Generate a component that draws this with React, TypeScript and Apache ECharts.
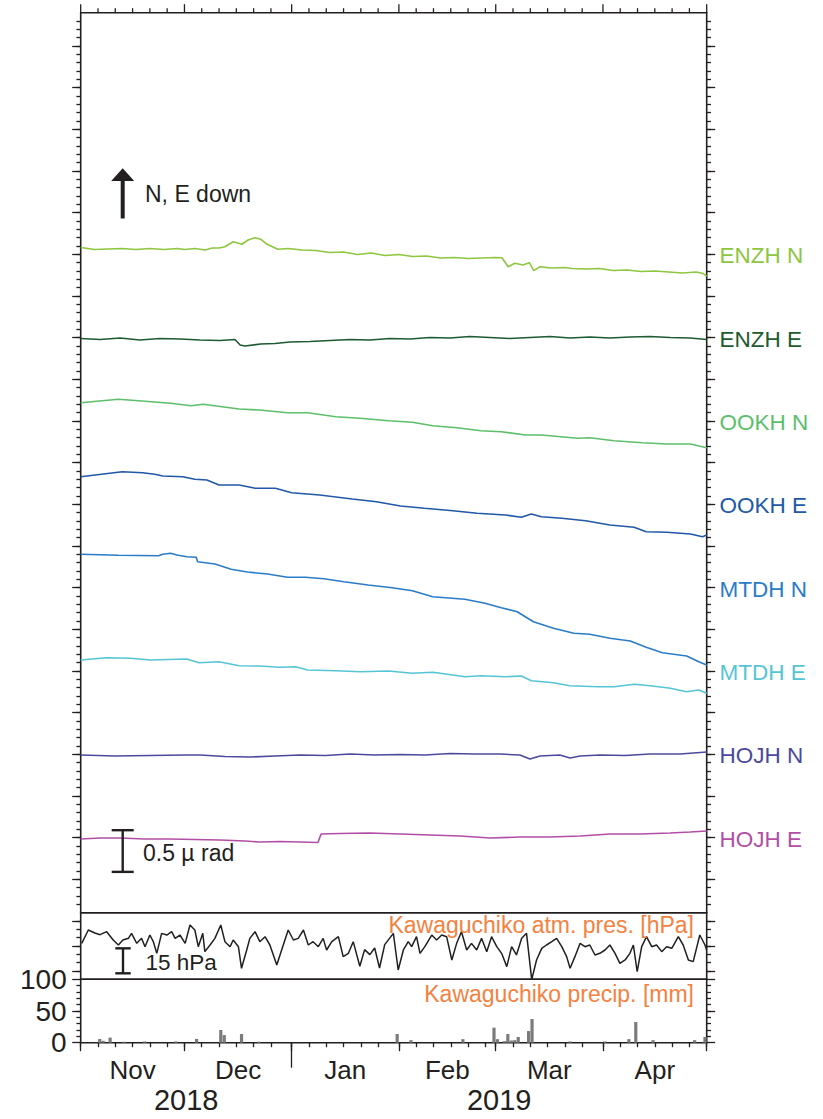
import { useEffect, useRef } from "react";
import * as echarts from "echarts";

const W = 823;
const H = 1119;
const FONT = '"Liberation Sans", Arial, Helvetica, sans-serif';
const INK = "#231f20";

// ---- time axis: days since 2018-11-01 (0) to 2019-05-01 (181)
const monthNames = ["Nov", "Dec", "Jan", "Feb", "Mar", "Apr"];
const monthLengths = [30, 31, 31, 28, 31, 30];
const yearLabels = ["2018", "2019"];
const yearMonthSpans = [[0, 2], [2, 6]];
const tickDaysOfMonth = [0, 5, 10, 15, 20, 25];

// ---- tilt traces (µrad, offset for display) as [day, value]
const traceNames = ["ENZH N", "ENZH E", "OOKH N", "OOKH E", "MTDH N", "MTDH E", "HOJH N", "HOJH E"];
const traceColors = ["#8dc63f", "#1d5b30", "#5cbf6b", "#2158a8", "#2b7cc7", "#55c5d5", "#4b4a9e", "#b24ea5"];
const traceLabelLevels = [7, 6, 5, 4, 3, 2, 1, 0];

const enzhN = [[0,7.082],[4,7.058],[8,7.064],[12,7.07],[16,7.058],[20,7.07],[24,7.058],[28,7.07],[30,7.058],[33,7.07],[36,7.052],[38,7.076],[40,7.076],[41.7,7.092],[44.1,7.152],[46.6,7.121],[48.4,7.172],[50.3,7.2],[52.1,7.181],[53.9,7.121],[57,7.061],[60,7.07],[64,7.052],[68,7.046],[72,7.022],[76,7.028],[80,6.998],[84,7.016],[88,6.986],[92,6.998],[96,6.974],[100,6.98],[104,6.956],[108,6.962],[112,6.95],[116,6.956],[120,6.962],[121.8,6.96],[123.6,6.852],[125.5,6.893],[127.9,6.872],[129.7,6.9],[131,6.804],[132.8,6.852],[136,6.836],[140,6.842],[142,6.83],[146,6.824],[150,6.83],[154,6.806],[158,6.812],[162,6.794],[166,6.8],[170,6.788],[174,6.776],[178,6.788],[180,6.77],[181,6.74]];
const enzhE = [[0,5.99],[5.6,5.978],[11.4,5.996],[17.1,5.972],[22.9,5.99],[28.7,5.984],[34.5,5.972],[40.3,5.966],[44.6,5.978],[46.1,5.912],[47.5,5.9],[52,5.924],[56.2,5.93],[60.5,5.948],[66.3,5.954],[72.1,5.966],[77.9,5.978],[83.6,5.972],[89.4,5.99],[95.2,5.984],[101,6.002],[106.8,5.996],[112.5,6.014],[118.3,6.002],[124.1,5.99],[129.9,6.002],[135.7,6.014],[141.5,5.996],[147.2,6.008],[153,5.996],[158.8,6.008],[164.6,6.014],[170.4,6.002],[176.2,5.996],[181,5.978]];
const ookhN = [[0,5.22],[10.9,5.261],[16.7,5.244],[26,5.213],[31.9,5.184],[35.4,5.201],[45.8,5.144],[51.7,5.132],[59.8,5.1],[65.6,5.1],[73.8,5.052],[80.7,5.033],[89,5.004],[95.9,4.985],[101.8,4.944],[108.8,4.92],[115.7,4.884],[121.6,4.872],[128.6,4.832],[133.2,4.832],[143.7,4.793],[147.2,4.8],[154.2,4.764],[162.4,4.74],[169.4,4.724],[176.3,4.724],[181,4.68]];
const ookhE = [[0,4.332],[12,4.392],[17.9,4.38],[21.4,4.361],[23.7,4.34],[29.5,4.332],[33,4.301],[36.5,4.292],[40,4.232],[45.8,4.232],[50.5,4.193],[56.3,4.193],[61,4.14],[69.1,4.112],[78.5,4.064],[85.5,4.032],[92.5,3.98],[99.4,3.953],[107.6,3.924],[114.6,3.893],[122.8,3.872],[127.4,3.845],[130.3,3.884],[133.2,3.852],[139.1,3.833],[146,3.804],[153,3.752],[160,3.725],[163.5,3.672],[169.4,3.665],[176.3,3.644],[179.8,3.612],[181,3.632]];
const mtdhN = [[0,3.401],[10.9,3.389],[22.5,3.384],[23.7,3.401],[26,3.413],[27.8,3.392],[30.7,3.372],[33.4,3.365],[33.8,3.312],[38.8,3.284],[43.5,3.221],[48.2,3.188],[54,3.164],[59.8,3.125],[65,3.125],[70.3,3.108],[76.1,3.072],[83.1,3.032],[90.1,3.0],[95.9,2.964],[101.8,2.892],[111.1,2.861],[116.9,2.813],[121.6,2.76],[126.2,2.712],[130.9,2.592],[136.7,2.513],[142.6,2.453],[147.2,2.441],[153,2.393],[158.9,2.36],[163.5,2.285],[168.2,2.22],[175.2,2.18],[178.7,2.112],[181,2.072]];
const mtdhE = [[0,2.132],[7.4,2.16],[14.4,2.153],[20.2,2.132],[30.7,2.144],[34.2,2.1],[40,2.112],[45.8,2.064],[51.7,2.06],[57.5,2.045],[62.2,2.052],[65.6,2.012],[73.8,2.004],[80.8,1.992],[89,2.0],[95.9,1.973],[101.8,1.985],[107.6,1.952],[111.1,1.932],[115.8,1.944],[122.8,1.932],[127.4,1.94],[130.3,1.884],[136.7,1.86],[141.4,1.824],[149.6,1.812],[154.2,1.812],[160,1.841],[164.7,1.824],[170.5,1.793],[175.2,1.752],[178.7,1.772],[181,1.733]];
const hojhN = [[0,0.992],[9.9,0.98],[20,0.986],[30.2,0.992],[34.5,0.992],[41.7,0.974],[49,0.968],[56.2,0.98],[63.4,0.992],[70.7,0.986],[77.9,1.004],[85,0.992],[92.3,0.998],[99.5,0.992],[106.8,1.01],[114,1.004],[121.2,1.004],[127,0.992],[129.9,0.944],[132.8,0.98],[138.5,0.992],[141.5,0.956],[144.4,0.98],[150.1,0.992],[157.4,0.986],[164.6,1.004],[173.3,1.004],[181,1.028]];
const hojhE = [[0,-0.016],[5.6,-0.004],[11.4,-0.004],[18.6,-0.016],[25.8,-0.016],[33,-0.022],[40.3,-0.028],[47.5,-0.04],[51.8,-0.052],[57.6,-0.046],[63.4,-0.052],[68.6,-0.058],[69.5,0.044],[74.9,0.05],[83.6,0.056],[92.3,0.044],[101,0.032],[109.7,0.02],[118.3,-0.004],[127,0.008],[135.7,0.008],[144.4,0.02],[153,0.044],[161.7,0.044],[170.4,0.056],[176.2,0.068],[181,0.08]];
const traceData = [enzhN, enzhE, ookhN, ookhE, mtdhN, mtdhE, hojhN, hojhE];

// ---- Kawaguchiko atmospheric pressure [hPa] as [day, hPa]
const pressure = [[0.3,921.6],[2.2,929.6],[4.1,927.8],[5.6,926.8],[7.5,928.6],[9.4,923.6],[10.9,920.6],[12.2,923.6],[13.8,924.6],[14.7,927.6],[16.2,921.6],[17.6,924.6],[18.6,919.6],[20,926.6],[21,922.6],[22,915.6],[23.4,927.6],[24.9,926.6],[26.3,928.6],[27.3,924.6],[28.7,926.6],[30.2,921.6],[31.6,932.6],[33,929.6],[34,919.6],[35.3,927.6],[35.9,916.6],[37.4,920.6],[38.8,924.6],[40.5,932.6],[41.7,922.6],[43.2,919.6],[44.1,923.6],[45.6,919.6],[46.5,906.6],[48,917.6],[48.9,924.6],[50.4,928.6],[51.8,922.6],[53.3,925.6],[54.7,920.6],[56.7,908.6],[58.1,917.6],[60,929.6],[61.5,923.6],[62.9,924.6],[64.4,929.6],[65.8,920.6],[67.2,922.6],[68.7,919.6],[70.1,924.6],[71.1,917.6],[72.6,922.6],[74.5,925.6],[75.9,913.6],[77.4,915.6],[78.8,922.6],[80.7,907.8],[82.1,917.8],[83.6,914.8],[85,918.8],[86.4,906.8],[87.9,920.8],[90.4,927.6],[91.8,905.6],[93.3,917.6],[94.7,922.6],[95.7,919.6],[97.1,925.6],[98.1,915.6],[99.5,919.6],[101.5,926.6],[102.9,923.6],[104.4,926.6],[105.8,925.6],[107.3,911.6],[108.7,921.6],[110.1,928.6],[111.6,917.6],[113,921.6],[114.5,917.6],[115.9,924.6],[117.4,916.6],[118.8,925.6],[120.3,919.6],[121.7,915.6],[123.2,907.6],[124.6,919.6],[126,914.6],[127.5,924.6],[128.9,927.6],[130.4,899.8],[131.8,911.6],[133.3,918.6],[134.7,920.6],[136.2,922.6],[137.6,924.6],[139.1,919.6],[140.5,913.6],[141.5,906.6],[142.9,913.6],[144.4,921.6],[145.8,919.6],[147.2,920.6],[148.7,914.6],[150.1,915.6],[151.6,917.6],[153,920.6],[154.5,915.6],[155.9,909.6],[157.4,911.6],[158.8,915.6],[159.8,920.6],[160.9,904.6],[162.2,919.6],[163.6,925.6],[165.1,919.6],[166.5,920.6],[168,916.6],[169.4,919.6],[170.9,918.6],[172.8,925.6],[174.2,920.6],[175.7,911.6],[177.1,910.6],[179,926.6],[180.5,920.6],[181,917.6]];

// ---- Kawaguchiko daily precipitation [mm]
const precipDays = [5, 6, 8, 12, 18, 27, 33, 40, 41, 46, 51, 91, 95, 110, 119, 120, 122, 123, 124, 125, 126, 129, 130, 141, 151, 158, 160, 165, 177, 180];
const precipMm = [5.8, 3, 8, 1.5, 2, 2, 6, 20, 12, 13.7, 1.5, 13.7, 4, 5.6, 23.7, 5.6, 2.5, 13.7, 3.5, 4, 9, 18.4, 37.4, 2, 2, 5.6, 32.6, 4, 4, 9];

// ---- panel scales
const tiltRange = [-0.9, 9.9];
const presRange = [900, 940];
const presMajor = [905, 920, 935];
const precRange = [0, 100];
const precLabels = [0, 50, 100];
const tiltScaleBar = { base: -0.41, span: 0.5, label: "0.5 µ rad" };
const presScaleBar = { base: 903.6, span: 15, label: "15 hPa" };

function steps(a: number, b: number, step: number) {
  const out: number[] = [];
  for (let k = Math.round(a / step); k <= Math.round(b / step); k++) out.push(+(k * step).toFixed(4));
  return out;
}

export default function App() {
  const ref = useRef<HTMLDivElement>(null);
  useEffect(() => {
    if (!ref.current) return;
    const chart = echarts.init(ref.current, undefined, { renderer: "svg" });

    const monthStarts: number[] = [0];
    monthLengths.forEach((l, i) => monthStarts.push(monthStarts[i] + l));
    const totalDays = monthStarts[monthStarts.length - 1];
    const fiveDay: number[] = [];
    monthLengths.forEach((_, i) => tickDaysOfMonth.forEach((o) => fiveDay.push(monthStarts[i] + o)));
    fiveDay.push(totalDays);
    const monthCenters = monthLengths.map((l, i) => monthStarts[i] + l / 2);
    const yearStarts = yearMonthSpans.slice(1).map((s) => monthStarts[s[0]]);
    const yearCenters = yearMonthSpans.map((s) => (monthStarts[s[0]] + monthStarts[s[1]]) / 2);

    const L = 80.7, R = W - 706.7, TOP = 12.7;
    const grids: any[] = [
      { left: L, right: R, top: TOP, height: 900 },
      { left: L, right: R, top: 912.7, height: 66.6 },
      { left: L, right: R, top: 979.3, height: 63.4 },
    ].map((g) => ({ ...g, show: true, borderColor: INK, borderWidth: 1.6, backgroundColor: "transparent", containLabel: false }));

    const tick = (len: number, values: number[]) => ({ show: true, inside: false, length: len, customValues: values, lineStyle: { color: INK, width: 1.3 } });
    const base = { type: "value", axisLine: { show: false, onZero: false }, splitLine: { show: false }, axisLabel: { show: false } };
    const xBase = { ...base, min: 0, max: totalDays };

    const xAxis: any[] = [
      { ...xBase, gridIndex: 0, position: "bottom", axisTick: { show: false } },
      { ...xBase, gridIndex: 1, show: false },
      { ...xBase, gridIndex: 2, position: "bottom", axisTick: tick(4.5, fiveDay) },
      { ...xBase, gridIndex: 2, position: "bottom", axisTick: tick(8.5, monthStarts) },
      { ...xBase, gridIndex: 2, position: "bottom", axisTick: tick(25, yearStarts) },
      {
        ...xBase, gridIndex: 2, position: "bottom", axisTick: { show: false },
        axisLabel: {
          show: true, customValues: monthCenters, margin: 14, fontSize: 26, color: INK, fontFamily: FONT,
          formatter: (v: number) => monthNames[monthCenters.findIndex((c) => Math.abs(c - v) < 1e-6)] ?? "",
        },
      },
      {
        ...xBase, gridIndex: 2, position: "bottom", axisTick: { show: false },
        axisLabel: {
          show: true, customValues: yearCenters, margin: 43, fontSize: 29, color: INK, fontFamily: FONT,
          formatter: (v: number) => yearLabels[yearCenters.findIndex((c) => Math.abs(c - v) < 1e-6)] ?? "",
        },
      },
    ];

    const tiltMinor = steps(tiltRange[0] + 0.1, tiltRange[1] - 0.1, 0.1);
    const tiltMajor = steps(-0.5, 9.5, 0.5);
    const presMinor = steps(presRange[0] + 5, presRange[1] - 5, 5);
    const precMinor = steps(10, 90, 10);
    const yT = { ...base, min: tiltRange[0], max: tiltRange[1], gridIndex: 0 };
    const yP = { ...base, min: presRange[0], max: presRange[1], gridIndex: 1 };
    const yR = { ...base, min: precRange[0], max: precRange[1], gridIndex: 2 };
    const yAxis: any[] = [
      { ...yT, position: "left", axisTick: tick(4.3, tiltMinor) },
      { ...yT, position: "left", axisTick: tick(8.5, tiltMajor) },
      { ...yT, position: "right", axisTick: tick(4.3, tiltMinor) },
      { ...yT, position: "right", axisTick: tick(8.5, tiltMajor) },
      { ...yP, position: "left", axisTick: tick(4.3, presMinor) },
      { ...yP, position: "left", axisTick: tick(8.5, presMajor) },
      { ...yP, position: "right", axisTick: tick(4.3, presMinor) },
      { ...yP, position: "right", axisTick: tick(8.5, presMajor) },
      { ...yR, position: "left", axisTick: tick(4.3, precMinor) },
      {
        ...yR, position: "left", axisTick: tick(8.5, precLabels),
        axisLabel: { show: true, customValues: precLabels, margin: 14, fontSize: 28, color: INK, fontFamily: FONT },
      },
      { ...yR, position: "right", axisTick: tick(4.3, precMinor) },
      { ...yR, position: "right", axisTick: tick(8.5, precLabels) },
    ];

    const series: any[] = traceData.map((d, i) => ({
      type: "line", name: traceNames[i], xAxisIndex: 0, yAxisIndex: 0, data: d,
      showSymbol: false, symbol: "none", silent: true,
      lineStyle: { color: traceColors[i], width: 1.6 }, itemStyle: { color: traceColors[i] },
    }));
    series.push({
      type: "line", name: "pressure", xAxisIndex: 1, yAxisIndex: 4, data: pressure,
      showSymbol: false, symbol: "none", silent: true, lineStyle: { color: INK, width: 1.5 },
    });
    series.push({
      type: "bar", name: "precip", xAxisIndex: 2, yAxisIndex: 8,
      data: precipDays.map((d, i) => [d + 0.5, precipMm[i]]),
      barWidth: 3.2, silent: true, itemStyle: { color: "#7b7b7b" },
    });

    chart.setOption({ animation: false, backgroundColor: "#ffffff", grid: grids, xAxis, yAxis, series });

    const py = (axis: number, v: number) => chart.convertToPixel({ yAxisIndex: axis } as any, v) as number;
    // pixel of a (day, tilt) point through the tilt panel's scales, with a linear fallback
    const gp = (d: number, v: number): number[] => {
      const p: any = chart.convertToPixel({ gridIndex: 0 } as any, [d, v]);
      if (Array.isArray(p) && isFinite(p[0]) && isFinite(p[1])) return p;
      return [L + (d / totalDays) * (W - R - L), TOP + ((tiltRange[1] - v) / (tiltRange[1] - tiltRange[0])) * 900];
    };
    const txt = (text: string, x: number, y: number, fill: string, size: number, align = "left") => ({
      type: "text", x, y, silent: true, z: 50,
      style: { text, fill, fontSize: size, fontFamily: FONT, textAlign: align, textVerticalAlign: "middle", verticalAlign: "middle" },
    });
    const ibar = (x: number, y1: number, y2: number, half: number) => [
      { type: "line", silent: true, z: 50, shape: { x1: x, y1, x2: x, y2 }, style: { stroke: INK, lineWidth: 2.4 } },
      { type: "line", silent: true, z: 50, shape: { x1: x - half, y1, x2: x + half, y2: y1 }, style: { stroke: INK, lineWidth: 2.4 } },
      { type: "line", silent: true, z: 50, shape: { x1: x - half, y1: y2, x2: x + half, y2 }, style: { stroke: INK, lineWidth: 2.4 } },
    ];

    // upward date ticks on the top frame of the tilt panel
    const topTicks = fiveDay.map((d) => {
      const [x, y] = gp(d, tiltRange[1]);
      const len = monthStarts.includes(d) ? 8.5 : 4.5;
      return { type: "line", silent: true, z: 100, shape: { x1: x, y1: y, x2: x, y2: y - len }, style: { stroke: INK, lineWidth: 1.3 } };
    });

    const tb1 = py(0, tiltScaleBar.base), tb2 = py(0, tiltScaleBar.base + tiltScaleBar.span);
    const pb1 = py(4, presScaleBar.base), pb2 = py(4, presScaleBar.base + presScaleBar.span);
    const graphic: any[] = [
      ...topTicks,
      { type: "line", silent: true, z: 50, shape: { x1: 122.7, y1: 218.5, x2: 122.7, y2: 180 }, style: { stroke: INK, lineWidth: 4 } },
      { type: "polygon", silent: true, z: 50, shape: { points: [[111.2, 181], [134.2, 181], [122.7, 168.3]] }, style: { fill: INK } },
      txt("N, E down", 145, 194, INK, 23),
      ...ibar(122.7, tb1, tb2, 11),
      txt(tiltScaleBar.label, 143, 853, INK, 23),
      ...ibar(123, pb1, pb2, 7.7),
      txt(presScaleBar.label, 145.5, 962.5, INK, 22.5),
      txt("Kawaguchiko atm. pres. [hPa]", 694, 925, "#f5813f", 23, "right"),
      txt("Kawaguchiko precip. [mm]", 694, 993.5, "#f5813f", 23, "right"),
      ...traceNames.map((n, i) => txt(n, 719.5, py(0, traceLabelLevels[i]) + 1.3, traceColors[i], 22.5)),
    ];
    chart.setOption({ graphic });

    return () => chart.dispose();
  }, []);
  return <div ref={ref} style={{ position: "fixed", left: 0, top: 0, width: W, height: H, background: "#fff" }} />;
}
